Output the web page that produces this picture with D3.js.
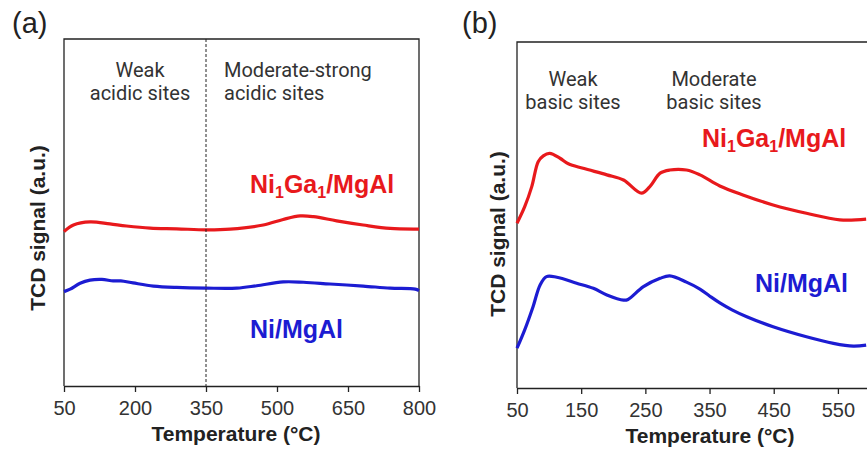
<!DOCTYPE html>
<html>
<head>
<meta charset="utf-8">
<script src="https://cdn.jsdelivr.net/npm/d3@7"></script>
<style>
  body { margin: 0; background: #fff; }
  text { font-family: "Liberation Sans", Arial, sans-serif; }
  .note { font-family: Roboto, "Liberation Sans", sans-serif; font-size: 20px; fill: #333; }
</style>
</head>
<body>
<div id="chart"></div>
<script>
// panel (a): NH3-TPD, panel (b): CO2-TPD (signal in a.u., 0-100 per panel)
const tempA = [50, 70, 105, 147, 182, 232, 288, 351, 401, 471, 513, 549, 577, 626, 682, 739, 795, 800]
const niGaA = [44.5, 46.4, 47.3, 46.7, 46.1, 45.5, 45.3, 45.0, 45.2, 46.4, 48.0, 49.0, 48.8, 47.6, 46.4, 45.4, 45.2, 45.2]
const tempA2 = [50, 63, 84, 105, 130, 154, 170, 196, 239, 288, 351, 415, 457, 513, 556, 612, 682, 739, 792, 800]
const niA = [27.2, 27.9, 29.6, 30.5, 30.7, 30.3, 30.3, 29.7, 28.8, 28.4, 28.2, 28.2, 28.9, 30.0, 29.9, 29.4, 28.8, 28.2, 27.9, 27.5]

const tempB = [50, 62, 73, 83, 91, 101, 117, 130, 153, 190, 216, 244, 257, 273, 288, 314, 335, 366, 402, 449, 501, 553, 594]
const niGaB = [47.6, 52.4, 58.2, 65.4, 67.1, 67.8, 66.4, 64.8, 63.5, 61.6, 60.1, 56.3, 58.2, 62.1, 63.0, 63.0, 61.6, 58.4, 55.8, 52.9, 50.5, 48.6, 48.8]
const tempB2 = [50, 62, 75, 86, 96, 112, 143, 169, 190, 216, 223, 247, 273, 288, 314, 335, 350, 366, 385, 408, 449, 501, 543, 574, 594]
const niB = [11.5, 16.8, 23.5, 29.8, 32.2, 32.0, 30.3, 28.8, 26.9, 25.4, 25.6, 29.3, 31.7, 32.4, 30.6, 28.6, 26.6, 24.6, 22.6, 20.6, 17.7, 14.8, 12.9, 12.1, 12.4]

const ticksA = [50, 200, 350, 500, 650, 800]
const ticksB = [50, 150, 250, 350, 450, 550]

const red = "#e8191c", blue = "#1c1cd2"

const svg = d3.select("#chart").append("svg")
  .attr("width", 867).attr("height", 450)

function panel(o) {
  const x = d3.scaleLinear().domain(o.xDomain).range([o.left, o.right])
  const y = d3.scaleLinear().domain([0, 100]).range([o.bottom, o.top])
  const g = svg.append("g")

  // frame
  g.append("path")
    .attr("d", o.closed
      ? `M${o.left},${o.bottom}V${o.top}H${o.right}V${o.bottom}`
      : `M${o.left},${o.bottom}V${o.top}H867`)
    .attr("fill", "none").attr("stroke", "#222").attr("stroke-width", 1.3)

  // x axis
  const ax = g.append("g")
    .attr("transform", "translate(0," + o.bottom + ")")
    .call(d3.axisBottom(x).tickValues(o.ticks).tickSize(6).tickSizeOuter(0).tickPadding(9))
  ax.select(".domain").attr("stroke", "#222").attr("stroke-width", 1.3)
  ax.selectAll(".tick line").attr("stroke", "#222").attr("stroke-width", 1.3)
  ax.selectAll(".tick text").attr("font-size", 20).attr("fill", "#333")
    .attr("font-family", "'Liberation Sans', Arial, sans-serif")

  g.append("text")
    .attr("x", o.xLabelX).attr("y", o.bottom + 55)
    .attr("text-anchor", "middle").attr("font-size", 21).attr("font-weight", "bold")
    .attr("fill", "#222")
    .text("Temperature (°C)")

  g.append("text")
    .attr("transform", `translate(${o.yLabelX},${o.yLabelY}) rotate(-90)`)
    .attr("text-anchor", "middle").attr("font-size", 21).attr("font-weight", "bold")
    .attr("fill", "#222")
    .text("TCD signal (a.u.)")

  g.append("text")
    .attr("x", o.tagX).attr("y", 33)
    .attr("font-size", 29).attr("fill", "#222")
    .text(o.tag)

  const line = d3.line()
    .x(d => x(d[0])).y(d => y(d[1]))
    .curve(d3.curveCatmullRom.alpha(0.5))

  o.series.forEach(s => {
    g.append("path")
      .datum(d3.zip(s.t, s.v))
      .attr("fill", "none").attr("stroke", s.color)
      .attr("stroke-width", 3.2).attr("stroke-linejoin", "round")
      .attr("d", line)
  })
  return { g, x, y }
}

function sampleLabel(g, xPos, yPos, color, sub) {
  const t = g.append("text")
    .attr("x", xPos).attr("y", yPos)
    .attr("font-size", 25).attr("font-weight", "bold").attr("fill", color)
  if (sub) {
    t.append("tspan").text("Ni")
    t.append("tspan").text("1").attr("font-size", 16).attr("dy", 5)
    t.append("tspan").text("Ga").attr("dy", -5)
    t.append("tspan").text("1").attr("font-size", 16).attr("dy", 5)
    t.append("tspan").text("/MgAl").attr("dy", -5)
  } else {
    t.text("Ni/MgAl")
  }
}

function note(g, xPos, yPos, anchor, lines) {
  lines.forEach((s, i) => {
    g.append("text").attr("class", "note")
      .attr("x", xPos).attr("y", yPos + i * 23)
      .attr("text-anchor", anchor).text(s)
  })
}

// (a)
const a = panel({
  xDomain: [50, 800], left: 64, right: 419, top: 39, bottom: 386, closed: true,
  ticks: ticksA, xLabelX: 236, yLabelX: 45, yLabelY: 228, tagX: 12, tag: "(a)",
  series: [
    { t: tempA, v: niGaA, color: red },
    { t: tempA2, v: niA, color: blue }
  ]
})
a.g.append("line")
  .attr("x1", a.x(350)).attr("x2", a.x(350))
  .attr("y1", 39).attr("y2", 386)
  .attr("stroke", "#222").attr("stroke-width", 1).attr("stroke-dasharray", "3,2")
note(a.g, 140, 77, "middle", ["Weak", "acidic sites"])
note(a.g, 224, 77, "start", ["Moderate-strong", "acidic sites"])
sampleLabel(a.g, 250, 193, red, true)
sampleLabel(a.g, 250, 338, blue, false)

// (b)
const b = panel({
  xDomain: [50, 600], left: 517, right: 870, top: 42, bottom: 388, closed: false,
  ticks: ticksB, xLabelX: 710, yLabelX: 505, yLabelY: 234, tagX: 462, tag: "(b)",
  series: [
    { t: tempB, v: niGaB, color: red },
    { t: tempB2, v: niB, color: blue }
  ]
})
note(b.g, 573, 86, "middle", ["Weak", "basic sites"])
note(b.g, 714, 86, "middle", ["Moderate", "basic sites"])
sampleLabel(b.g, 702, 147, red, true)
sampleLabel(b.g, 755, 292, blue, false)
</script>
</body>
</html>
